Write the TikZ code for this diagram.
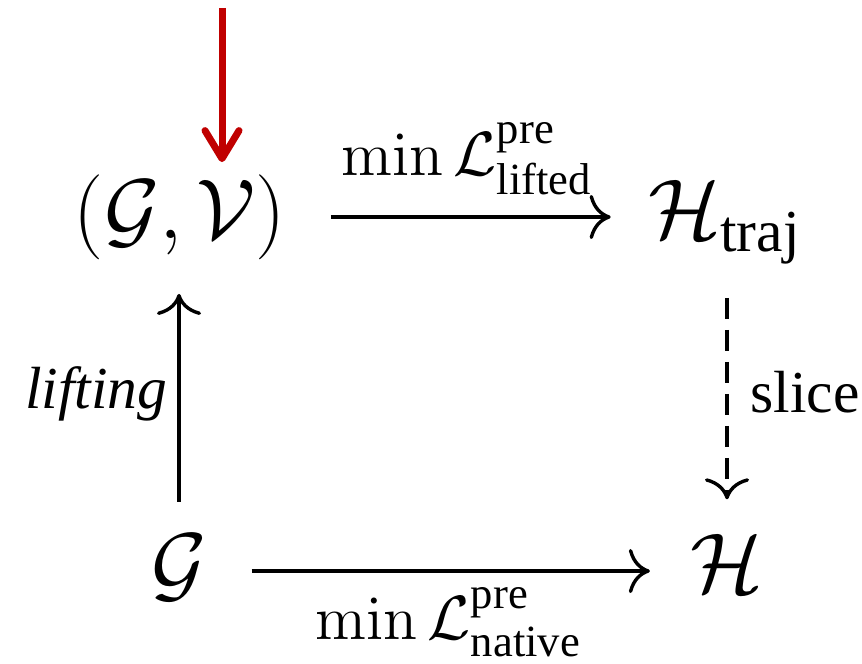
\RequirePackage{fix-cm}
\documentclass[tikz,border=0pt]{standalone}
\usepackage{amsmath}
\usepackage[no-math]{fontspec}
\setmainfont{Liberation Serif}
\DeclareMathAlphabet{\mathcmr}{OT1}{cmr}{m}{n}
\newcommand{\cmmin}{\mathop{\mathcmr{min}}\nolimits}
\usetikzlibrary{cd,arrows.meta}
\definecolor{arrowred}{RGB}{192,0,0}
\begin{document}
\begin{tikzpicture}[x=0.25pt,y=-0.25pt,
  obj/.style={inner sep=0pt, font=\fontsize{21.25}{25}\selectfont, text height=15.94pt, text depth=5.31pt},
  lbl/.style={inner sep=0pt, font=\fontsize{21.25}{25}\selectfont},
  minlbl/.style={inner sep=0pt, font=\fontsize{22.3}{26}\selectfont},
  cdarrow/.style={line width=0.85pt, -{cm to}},
  redarrow/.style={draw=arrowred, line width=1.75pt, -{Straight Barb[length=7pt,width=8.5pt,round]}}]
\useasboundingbox (0,0) rectangle (862,663);
\node[obj] (gv) at (180,217) {$(\mathcal{G},\mathcal{V})$};
\node[obj] (ht) at (725,217) {$\mathcal{H}_{\text{traj}}$};
\node[obj] (g) at (179,571) {$\mathcal{G}$};
\node[obj] (h) at (727,571) {$\mathcal{H}$};
\draw[cdarrow, shorten <=11pt, shorten >=9.25pt] (gv.east) -- (ht.west)
  node[midway, minlbl, anchor=base, yshift=10.5pt] {$\scriptstyle\cmmin\mathcal{L}^{\text{pre}}_{\text{lifted}}$};
\draw[cdarrow, shorten <=11pt, shorten >=10pt] (g.east) -- (h.west)
  node[midway, minlbl, anchor=base, yshift=-17pt] {$\scriptstyle\cmmin\mathcal{L}^{\text{pre}}_{\text{native}}$};
\draw[cdarrow, shorten <=6.5pt, shorten >=8.4pt] (g.north) -- (g.north |- gv.south)
  node[midway, lbl, anchor=base east, xshift=-2.5pt, yshift=-3.5pt] {$\scriptstyle\text{\itshape lifting}$};
\draw[cdarrow, dash pattern=on 5.25pt off 2.75pt, shorten <=9.4pt, shorten >=7.1pt] (h.north |- ht.south) -- (h.north)
  node[midway, lbl, anchor=base west, xshift=5.5pt, yshift=-4.5pt] {$\scriptstyle\text{slice}$};
\coordinate (rs) at (222,8);
\draw[redarrow, shorten >=2.9pt] (rs) -- (rs |- gv.north);
\end{tikzpicture}
\end{document}
